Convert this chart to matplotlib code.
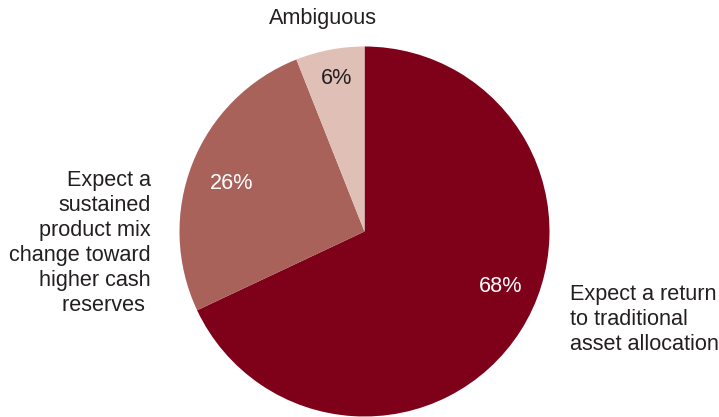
import matplotlib.pyplot as plt

W, H = 719, 417

shares = [68, 26, 6]
names = [
    'Expect a return\nto traditional\nasset allocation',
    'Expect a\nsustained\nproduct mix\nchange toward\nhigher cash\nreserves ',
    'Ambiguous',
]
colors = ['#7E0019', '#A8625A', '#E0BFB7']
pct_colors = ['white', 'white', '#231F20']

# pixel positions (x, y from top) for percent and category labels
pct_pos = [(501, 286), (232, 184), (337, 79)]
name_pos = [(570, 300, 'left'), (151, 186, 'right'), (323, 24, 'center')]

plt.rcParams['font.family'] = ['Liberation Sans', 'DejaVu Sans']
FS = 15.6

fig = plt.figure(figsize=(W / 100, H / 100), dpi=100)
cx, cy, r = 364.5, 231.5, 185
ax = fig.add_axes([(cx - r) / W, (H - cy - r) / H, 2 * r / W, 2 * r / H])
ax.pie(shares, colors=colors, startangle=90, counterclock=False,
       radius=1, wedgeprops=dict(linewidth=0))
ax.set_xlim(-1, 1)
ax.set_ylim(-1, 1)
ax.set_aspect('equal')
ax.axis('off')

for v, (x, y), c in zip(shares, pct_pos, pct_colors):
    fig.text(x / W, 1 - y / H, f'{v}%', color=c, fontsize=FS,
             ha='center', va='center')

for lab, (x, y, ha) in zip(names, name_pos):
    for i, line in enumerate(lab.split('\n')):
        fig.text(x / W, 1 - (y + 25 * i) / H, line, color='#231F20',
                 fontsize=FS, ha=ha, va='baseline')

fig.savefig('out.png', dpi=100)
